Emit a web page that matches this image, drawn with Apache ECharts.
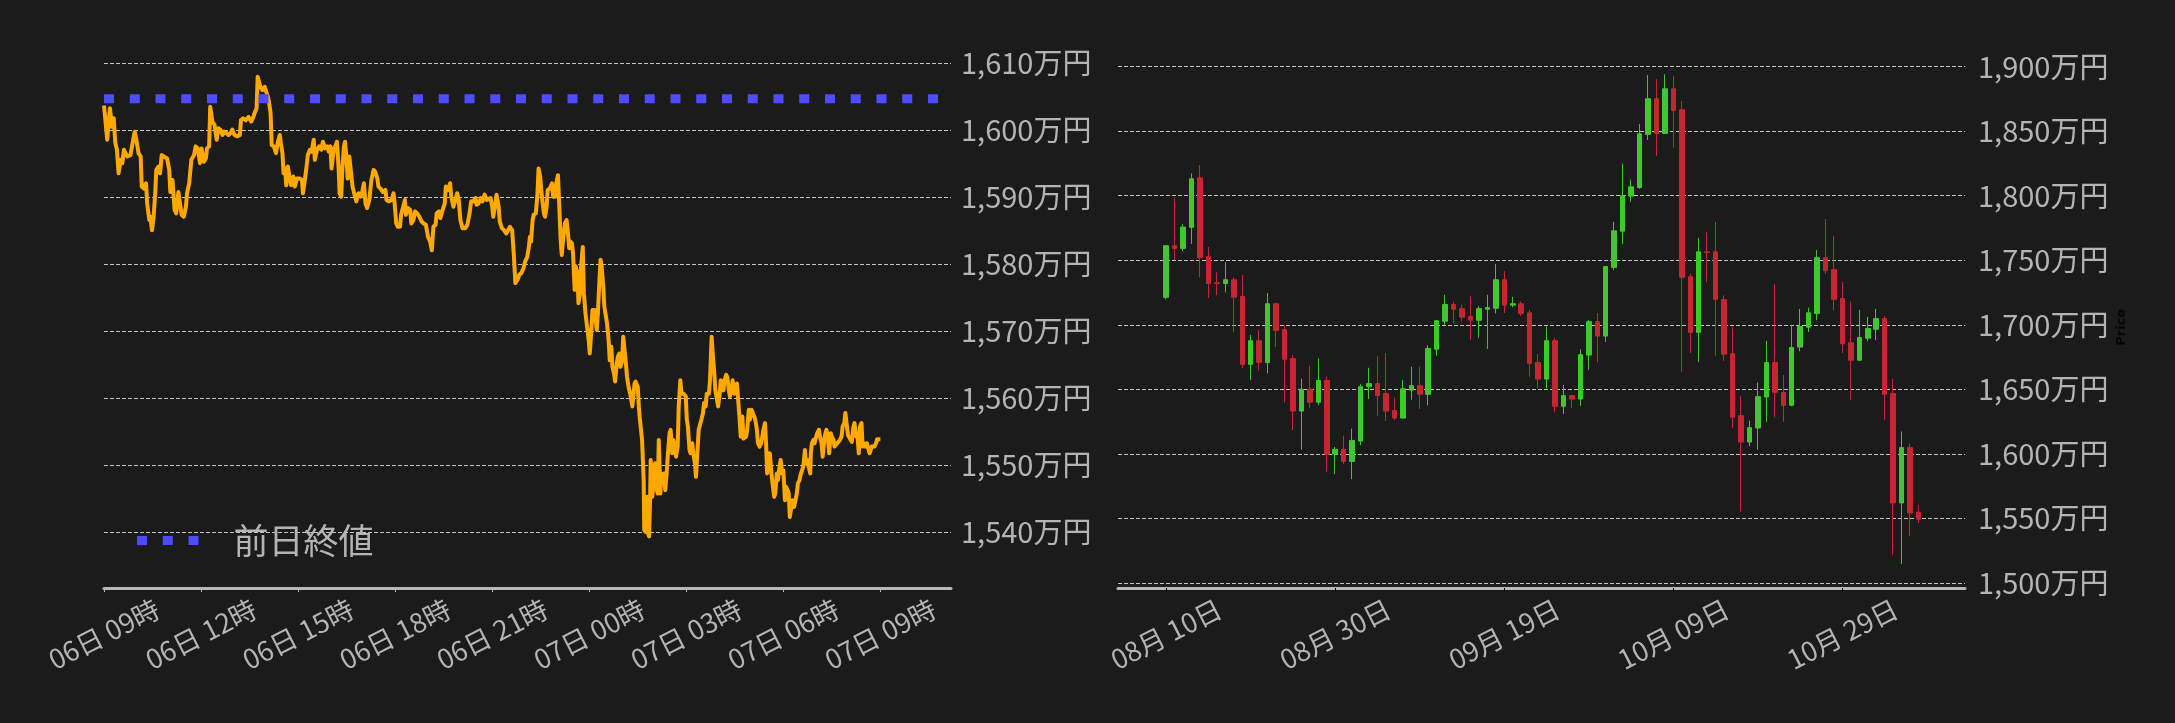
<!DOCTYPE html>
<html>
<head>
<meta charset="utf-8">
<script src="https://cdn.jsdelivr.net/npm/echarts@6/dist/echarts.min.js"></script>
<style>
html,body{margin:0;padding:0;background:#1b1b1b;}
#c{width:2175px;height:723px;}
</style>
</head>
<body>
<div id="c"></div>
<script>
// ---------- Intraday (left) : minutes since 06日 09時, price in 万円 ----------
const intradayMinutes = [0,6,11,15,18,21,24,27,31,34,37,43,49,53,57,60,64,68,70,74,78,80,84,86,89,92,95,97,101,104,107,111,117,121,123,127,131,134,138,141,144,148,152,154,158,162,167,170,174,178,181,185,189,191,195,197,201,205,209,212,216,220,223,227,231,235,238,242,247,252,254,258,263,268,273,277,279,283,285,288,290,294,298,301,304,306,309,311,315,319,322,326,328,331,333,336,338,341,343,347,351,354,358,363,367,369,372,375,378,382,385,389,391,395,399,403,406,410,414,417,420,422,426,430,432,435,437,440,442,445,447,450,452,455,458,461,464,468,472,476,479,482,485,488,
492,496,500,503,507,509,513,517,522,524,528,533,537,539,542,545,549,551,555,558,560,564,568,570,574,577,581,585,589,593,597,601,605,608,611,615,617,621,624,628,632,634,638,642,644,648,652,655,658,661,665,670,674,678,681,685,689,691,695,699,702,706,710,713,717,720,722,726,728,732,734,738,742,746,749,753,757,760,763,767,770,774,778,781,785,788,790,792,795,797,801,804,806,809,811,813,816,818,821,823,827,831,833,837,839,842,844,847,849,852,855,858,860,863,865,868,870,873,875,878,880,883,885,888,890,893,896,899,901,904,906,910,914,916,919,921,923,926,928,931,933,936,938,941,943,946,948,951,953,956,958,961,963,965,968,970,973,977,980,984,
986,990,992,994,998,1001,1002,1004,1007,1009,1011,1013,1014,1017,1019,1022,1024,1027,1029,1032,1034,1037,1039,1041,1044,1046,1049,1051,1054,1056,1059,1061,1064,1066,1069,1071,1075,1079,1081,1083,1086,1088,1091,1093,1096,1098,1101,1103,1106,1108,1111,1113,1116,1118,1122,1124,1127,1129,1132,1134,1137,1139,1142,1144,1146,1149,1151,1154,1156,1159,1161,1164,1166,1169,1171,1174,1176,1179,1181,1184,1186,1188,1191,1193,1196,1198,1201,1203,1206,1208,1211,1213,1216,1219,1223,1226,1228,1230,1233,1235,1238,1240,1243,1245,1248,1250,1253,1255,1258,1260,1263,1265,1268,1270,1272,1275,1277,1280,1282,1285,1287,1290,1292,1295,1297,1300,1302,1305,1307,1310,1311,1313,1316,1318,1321,1323,1326,1328,1331,1333,1336,1338,1340,1343,1345,1348,1350,1353,1355,1358,1360,1363,1365,1368,1370,1373,1375,1378,1380,1382,1385,1387,1390,1392,1395,1397,1400,1402,1405,1407,1410,1412,1415,1417,1420,1422,1424,1427,1429,1432,1434,1437,1440];
const intradayPrices = [1603.7,1598.6,1603.3,1600.5,1601.8,1598.1,1597.1,1593.6,1595.6,1595.1,1597.1,1596.1,1596.3,1598.1,1599.8,1598.6,1596.6,1596.1,1591.6,1591.3,1592.1,1589.1,1586.6,1587.1,1585.1,1587.1,1590.6,1594.1,1594.6,1593.6,1596.3,1596.1,1595.8,1594.1,1590.8,1592.6,1588.1,1587.6,1590.8,1590.6,1587.4,1587.1,1588.6,1590.6,1592.1,1595.6,1596.3,1597.6,1597.3,1595.1,1597.3,1595.3,1595.8,1597.3,1597.6,1603.5,1601.3,1600.8,1598.6,1600.3,1600.1,1599.3,1599.8,1599.6,1599.3,1599.6,1600.1,1599.3,1599.1,1599.3,1601.5,1601.8,1601.5,1602.0,1601.3,1602.0,1602.5,1603.3,1608.0,1607.8,1606.5,1606.0,1606.5,1606.3,1605.0,1604.3,1602.5,1597.8,1597.6,1596.6,1598.1,1599.3,1598.1,1596.6,1593.6,1594.3,1591.8,1594.6,1593.6,1591.8,1593.1,1591.6,1592.8,1592.8,1592.6,1590.6,1592.3,1594.1,1596.3,1597.1,1596.8,1598.6,1595.6,1597.1,1597.6,1597.1,1598.3,1597.3,1597.6,1596.8,1597.6,1594.3,1597.1,1597.8,1598.3,1594.6,1590.6,1590.1,1594.1,1597.6,1598.3,1595.6,1592.8,1596.1,1596.1,1591.6,1590.6,1589.4,1590.6,1590.1,1590.8,1592.1,1589.1,1588.4,
1589.6,1592.6,1594.1,1593.8,1592.8,1591.6,1591.3,1590.8,1591.1,1589.6,1589.4,1589.6,1590.6,1589.1,1586.1,1585.6,1585.6,1587.4,1588.6,1589.6,1587.4,1588.4,1588.1,1586.1,1586.6,1587.9,1587.6,1587.1,1586.4,1586.1,1585.9,1584.1,1583.4,1582.1,1585.6,1585.9,1587.6,1587.9,1586.9,1588.1,1589.1,1591.6,1591.1,1592.1,1590.1,1588.6,1589.6,1590.6,1589.6,1586.6,1585.4,1585.4,1585.9,1587.6,1589.4,1589.4,1589.9,1588.9,1589.1,1589.9,1589.4,1590.4,1589.6,1589.4,1589.9,1588.6,1587.1,1589.1,1590.4,1588.6,1586.4,1585.4,1585.1,1584.6,1584.6,1585.6,1585.1,1581.6,1577.2,1577.7,1578.4,1578.7,1579.4,1580.4,1581.1,1582.6,1584.1,1583.4,1586.6,1587.4,1587.6,1590.6,1594.3,1593.1,1591.1,1589.6,1587.6,1587.1,1588.6,1591.1,1591.3,1592.1,1590.1,1590.1,1592.1,1593.3,1589.6,1583.6,1581.4,1584.1,1586.1,1586.6,1585.1,1582.4,1583.4,1583.1,1581.6,1576.2,1579.7,1578.7,1574.2,1575.7,1579.7,1582.6,1575.7,1572.7,1570.7,1568.7,1566.7,1570.2,1573.2,1573.2,1570.2,1572.7,1577.7,1580.7,1579.7,1576.7,1573.7,1572.2,1571.2,1568.7,1565.7,1567.7,1564.7,1563.7,1562.5,1565.2,1566.2,1566.7,1564.7,1565.7,1569.2,1569.0,1565.2,1563.3,1561.7,1560.3,1558.8,1562.2,
1562.5,1561.7,1558.8,1556.8,1553.8,1547.8,1540.4,1540.1,1545.3,1539.9,1539.4,1545.3,1550.8,1545.3,1547.3,1550.3,1546.8,1545.8,1553.8,1545.8,1548.8,1547.8,1548.8,1546.3,1549.3,1551.8,1554.8,1555.3,1551.8,1553.8,1552.8,1551.3,1552.8,1558.8,1562.7,1560.7,1560.7,1560.3,1556.8,1555.8,1552.3,1551.8,1553.3,1551.8,1550.3,1548.3,1552.5,1555.3,1555.5,1556.8,1557.8,1559.3,1558.8,1560.7,1560.7,1562.7,1569.2,1566.7,1563.7,1561.2,1559.8,1558.8,1560.7,1562.7,1561.7,1561.2,1562.7,1563.5,1563.2,1561.2,1560.3,1561.2,1562.7,1560.7,1561.7,1562.2,1562.0,1556.8,1554.3,1557.3,1554.0,1553.8,1554.3,1555.3,1558.3,1556.8,1558.3,1558.3,1557.3,1556.8,1555.3,1553.3,1552.8,1553.3,1555.3,1556.3,1553.3,1548.8,1551.3,1551.8,1548.8,1547.3,1545.3,1545.8,1548.8,1547.8,1549.8,1550.8,1548.8,1549.3,1544.8,1546.8,1546.3,1545.8,1542.3,1543.8,1544.8,1543.8,1543.8,1545.8,1547.3,1547.8,1548.6,1548.8,1549.8,1552.3,1550.3,1550.8,1549.8,1548.8,1551.8,1553.3,1553.8,1553.3,1554.3,1554.8,1555.3,1554.3,1553.3,1551.3,1553.8,1554.8,1555.3,1553.8,1551.8,1554.8,1554.3,1553.8,1552.8,1552.8,1553.3,1553.3,1553.8,1554.3,1555.8,1556.3,1557.8,1558.0,1554.5,1554.3,1553.8,1553.5,1555.8,1556.3,1554.3,1554.8,1551.8,1555.8,1556.3,1552.8,1553.3,1552.8,1553.3,1553.5,1551.8,1551.8,1552.8,1552.8,1552.8,1553.3,1553.9,1553.9,1553.9];
const prevClose = 1604.7;
const intradayXMin = 0;
const intradayXMax = 1571;
const intradayTickMinutes = [0,180,360,540,720,900,1080,1260,1440];
const intradayTickLabels = ['06日 09時','06日 12時','06日 15時','06日 18時','06日 21時','07日 00時','07日 03時','07日 06時','07日 09時'];
const intradayYMin = 1531.7, intradayYMax = 1610;
const intradayYTicks = [1540,1550,1560,1570,1580,1590,1600,1610];

// ---------- Daily candles (right) ----------
const dailyDates = ['2025-08-10','2025-08-11','2025-08-12','2025-08-13','2025-08-14','2025-08-15','2025-08-16','2025-08-17','2025-08-18','2025-08-19','2025-08-20','2025-08-21','2025-08-22','2025-08-23','2025-08-24','2025-08-25','2025-08-26','2025-08-27','2025-08-28','2025-08-29','2025-08-30','2025-08-31','2025-09-01','2025-09-02','2025-09-03','2025-09-04','2025-09-05','2025-09-06','2025-09-07','2025-09-08','2025-09-09','2025-09-10','2025-09-11','2025-09-12','2025-09-13','2025-09-14','2025-09-15','2025-09-16','2025-09-17','2025-09-18','2025-09-19','2025-09-20','2025-09-21','2025-09-22','2025-09-23','2025-09-24','2025-09-25','2025-09-26','2025-09-27','2025-09-28','2025-09-29','2025-09-30','2025-10-01','2025-10-02','2025-10-03','2025-10-04','2025-10-05','2025-10-06','2025-10-07','2025-10-08','2025-10-09','2025-10-10','2025-10-11','2025-10-12','2025-10-13','2025-10-14','2025-10-15','2025-10-16','2025-10-17','2025-10-18','2025-10-19','2025-10-20','2025-10-21','2025-10-22','2025-10-23','2025-10-24','2025-10-25','2025-10-26','2025-10-27','2025-10-28','2025-10-29','2025-10-30','2025-10-31','2025-11-01','2025-11-02','2025-11-03','2025-11-04','2025-11-05','2025-11-06','2025-11-07'];
const dailyOpen  = [1721.3,1761.3,1759.2,1775.5,1813.9,1752.8,1732.5,1732.0,1734.9,1721.9,1669.3,1687.7,1670.7,1716.3,1696.3,1673.9,1633.1,1650.1,1640.0,1656.8,1599.7,1603.5,1594.1,1609.9,1652.0,1654.4,1646.7,1633.6,1627.7,1649.3,1652.8,1646.1,1681.1,1702.7,1715.7,1712.5,1706.4,1703.5,1712.0,1712.8,1734.9,1715.2,1716.3,1709.3,1670.7,1657.9,1687.7,1636.8,1645.1,1642.4,1676.5,1702.4,1691.2,1744.5,1772.5,1799.7,1806.4,1847.5,1875.2,1848.3,1882.9,1866.7,1737.3,1694.1,1756.5,1756.5,1719.5,1677.6,1629.6,1609.1,1620.0,1644.0,1670.7,1647.5,1637.6,1682.7,1698.1,1708.8,1752.0,1742.7,1720.3,1686.1,1672.5,1689.6,1696.5,1704.8,1646.7,1561.9,1604.8,1554.7];
const dailyClose = [1761.3,1759.2,1775.7,1813.1,1752.0,1732.0,1732.0,1734.9,1721.3,1669.3,1687.7,1670.7,1716.3,1695.5,1673.3,1633.1,1650.1,1640.0,1656.8,1599.7,1603.5,1594.1,1610.4,1652.0,1654.4,1645.1,1633.1,1627.7,1650.4,1652.8,1646.1,1681.6,1703.2,1715.7,1712.0,1705.9,1703.5,1712.5,1713.3,1734.9,1715.2,1716.3,1708.8,1670.1,1657.9,1687.7,1636.8,1645.1,1642.4,1676.8,1702.4,1691.2,1745.1,1772.8,1800.0,1806.9,1848.0,1875.2,1848.3,1882.9,1866.1,1736.8,1694.1,1756.5,1756.0,1719.7,1677.1,1628.3,1609.1,1620.3,1644.3,1670.7,1647.7,1637.6,1682.4,1698.7,1709.3,1752.0,1741.9,1719.7,1685.3,1672.5,1690.1,1697.1,1704.8,1646.1,1561.9,1604.8,1554.1,1549.3];
const dailyLow   = [1719.7,1750.1,1757.1,1762.7,1736.8,1720.8,1722.9,1725.1,1694.1,1666.4,1657.3,1664.8,1662.4,1682.7,1640.0,1618.4,1603.2,1635.5,1637.6,1586.1,1584.3,1592.0,1580.3,1606.7,1642.4,1629.1,1625.3,1626.1,1627.7,1641.9,1634.7,1637.6,1676.0,1700.0,1701.3,1702.7,1688.0,1689.9,1681.3,1708.8,1709.1,1713.6,1706.7,1659.7,1650.7,1650.7,1632.0,1630.9,1635.5,1637.1,1665.1,1671.2,1686.7,1742.4,1762.4,1795.2,1805.3,1843.2,1830.7,1848.3,1837.3,1663.5,1678.1,1671.2,1733.1,1676.0,1672.0,1620.0,1555.2,1605.9,1603.2,1624.8,1628.3,1624.8,1636.8,1679.5,1694.4,1703.5,1739.5,1711.2,1678.1,1641.9,1672.5,1687.2,1688.0,1626.4,1521.9,1514.7,1536.3,1546.4];
const dailyHigh  = [1761.3,1798.7,1777.9,1817.3,1823.7,1760.3,1740.8,1748.5,1736.8,1738.7,1692.0,1696.0,1724.5,1717.1,1699.5,1676.5,1658.1,1668.0,1673.9,1660.0,1605.3,1614.1,1619.5,1653.9,1666.7,1675.5,1678.1,1643.5,1657.3,1667.5,1667.5,1684.0,1703.2,1723.2,1717.6,1715.5,1722.4,1714.4,1723.2,1747.2,1741.6,1721.6,1718.1,1711.5,1677.3,1698.7,1689.9,1653.3,1645.1,1680.8,1703.7,1709.1,1745.1,1779.7,1824.8,1812.5,1855.5,1893.6,1890.4,1894.1,1892.8,1873.3,1739.5,1767.2,1772.0,1779.7,1722.9,1698.4,1644.8,1625.6,1655.2,1687.5,1731.7,1661.1,1700.0,1712.3,1713.3,1757.9,1781.9,1768.8,1733.3,1717.9,1711.5,1706.1,1712.3,1706.7,1658.1,1617.3,1608.0,1560.5];
const dailyXMinDays = -5.7, dailyXMaxDays = 94.5;
const dailyTickDates = ['2025-08-10','2025-08-30','2025-09-19','2025-10-09','2025-10-29'];
const dailyTickLabels = ['08月 10日','08月 30日','09月 19日','10月 09日','10月 29日'];
const dailyYMin = 1496, dailyYMax = 1900;
const dailyYTicks = [1500,1550,1600,1650,1700,1750,1800,1850,1900];

// ---------- helpers ----------
const dayOffset = s => { const p = s.split('-').map(Number); return (Date.UTC(p[0], p[1]-1, p[2]) - Date.UTC(2025, 7, 10)) / 86400000; };
const manYen = v => String(Math.round(v)).replace(/\B(?=(\d{3})+(?!\d))/g, ',') + '万円';

const FONT = '"Noto Sans CJK JP", "Noto Sans", sans-serif';
const LABEL = '#b4b4b4';
const GRIDC = '#c4c4c4';
const GREEN = '#3ec82c', RED = '#c52631';
const XLAB = { rotate: 27, align: 'center', verticalAlign: 'middle', margin: 46, color: LABEL, fontSize: 27, fontFamily: FONT };

const chart = echarts.init(document.getElementById('c'), null, {renderer: 'canvas'});
const dailyTickValues = dailyTickDates.map(dayOffset);

chart.setOption({
  backgroundColor: '#1b1b1b',
  animation: false,
  textStyle: { fontFamily: FONT },
  legend: {
    data: ['前日終値'],
    left: 132, top: 518,
    itemWidth: 61.5, itemHeight: 9,
    icon: 'path://M0,0h10v9h-10z M25.75,0h10v9h-10z M51.5,0h10v9h-10z',
    selectedMode: false,
    textStyle: { color: LABEL, fontSize: 35, fontFamily: FONT, padding: [0,0,0,30] }
  },
  grid: [
    { left: 104, right: 1224, top: 63.3, bottom: 135 },
    { left: 1118, right: 210, top: 66.7, bottom: 135 }
  ],
  xAxis: [
    {
      type: 'value', gridIndex: 0, min: intradayXMin, max: intradayXMax,
      splitLine: { show: false },
      axisLine: { show: true, lineStyle: { color: '#b8b8b8', width: 3 } },
      axisTick: { show: true, length: 4, lineStyle: { color: '#b8b8b8', width: 1 }, customValues: intradayTickMinutes },
      axisLabel: Object.assign({ customValues: intradayTickMinutes,
        formatter: v => intradayTickLabels[intradayTickMinutes.indexOf(v)] || '' }, XLAB)
    },
    {
      type: 'value', gridIndex: 1, min: dailyXMinDays, max: dailyXMaxDays,
      splitLine: { show: false },
      axisLine: { show: true, lineStyle: { color: '#b8b8b8', width: 3 } },
      axisTick: { show: true, length: 4, lineStyle: { color: '#000', width: 1 }, customValues: dailyTickValues },
      axisLabel: Object.assign({ customValues: dailyTickValues,
        formatter: v => dailyTickLabels[dailyTickValues.indexOf(v)] || '' }, XLAB)
    }
  ],
  yAxis: [
    {
      type: 'value', gridIndex: 0, position: 'right', min: intradayYMin, max: intradayYMax,
      minInterval: 10, maxInterval: 10,
      axisLine: { show: false }, axisTick: { show: false },
      splitLine: { show: true, lineStyle: { color: GRIDC, type: [4, 2], width: 1 } },
      axisLabel: { customValues: intradayYTicks, margin: 10, color: LABEL, fontSize: 29, fontFamily: FONT, formatter: manYen }
    },
    {
      type: 'value', gridIndex: 1, position: 'right', min: dailyYMin, max: dailyYMax,
      minInterval: 50, maxInterval: 50,
      name: 'Price', nameLocation: 'middle', nameGap: 150,
      nameTextStyle: { color: '#060606', fontSize: 13, fontWeight: 'bold', fontFamily: 'DejaVu Sans' },
      axisLine: { show: false }, axisTick: { show: false },
      splitLine: { show: true, lineStyle: { color: GRIDC, type: [4, 2], width: 1 } },
      axisLabel: { customValues: dailyYTicks, margin: 13, color: LABEL, fontSize: 29, fontFamily: FONT, formatter: manYen }
    }
  ],
  series: [
    {
      name: 'BTC', type: 'line', xAxisIndex: 0, yAxisIndex: 0,
      data: intradayMinutes.map((t, i) => [t, intradayPrices[i]]),
      showSymbol: false, symbol: 'none',
      lineStyle: { color: '#ffa800', width: 4, join: 'round' },
      itemStyle: { color: '#ffa800' },
      z: 3
    },
    {
      name: '前日終値', type: 'line', xAxisIndex: 0, yAxisIndex: 0,
      data: [[intradayXMin, prevClose], [intradayXMax, prevClose]],
      showSymbol: false, symbol: 'none',
      lineStyle: { color: '#4d4dff', width: 9, type: [10, 15.75], cap: 'butt' },
      itemStyle: { color: '#4d4dff' },
      z: 4
    },
    {
      name: 'Daily', type: 'candlestick', xAxisIndex: 1, yAxisIndex: 1,
      data: dailyDates.map((d, i) => [dayOffset(d), dailyOpen[i], dailyClose[i], dailyLow[i], dailyHigh[i]]),
      barWidth: 5,
      itemStyle: { color: GREEN, color0: RED, borderColor: GREEN, borderColor0: RED, borderWidth: 1 }
    }
  ]
});
</script>
</body>
</html>
